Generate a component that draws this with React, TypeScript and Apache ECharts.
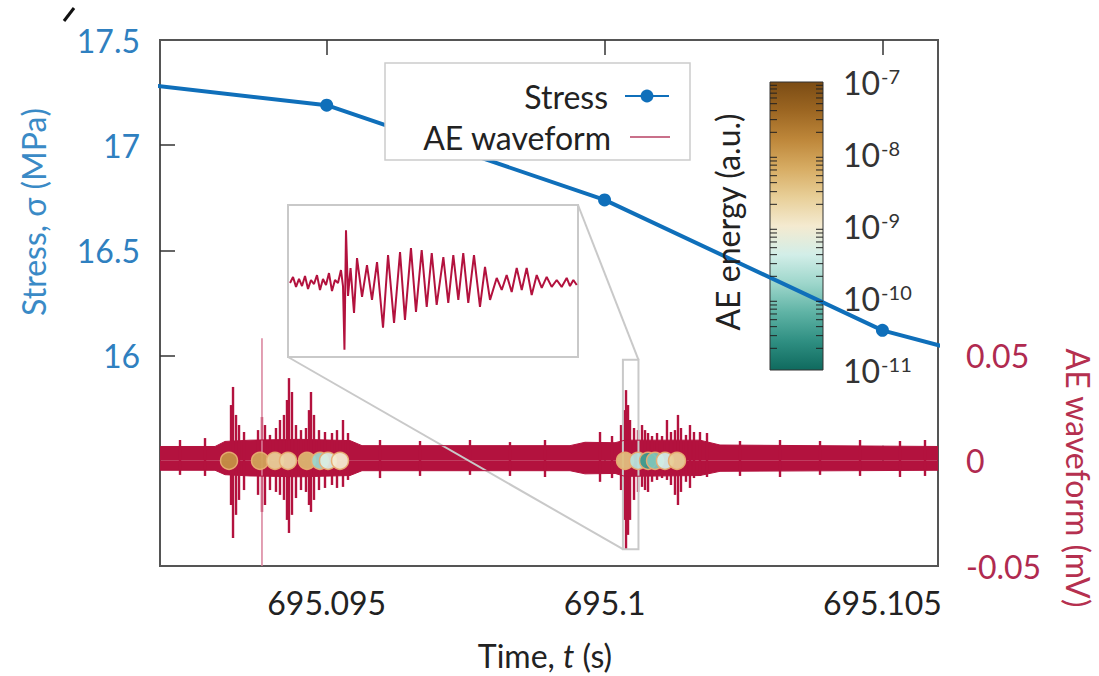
import React, { useEffect, useRef } from "react";
import * as echarts from "echarts";

// ---------- data ----------
const xTicks = [695.095, 695.1, 695.105];
const stressTicks = [16, 16.5, 17, 17.5];
const aeTicks = [-0.05, 0, 0.05];
const energyDecades = [-11, -10, -9, -8, -7];

// stress samples (s, MPa)
const stressTime = [695.09, 695.095, 695.1, 695.105, 695.11];
const stressValue = [17.34, 17.19, 16.74, 16.12, 15.77];

// AE waveform envelope (s, mV)
const envTime = [695.092, 695.09299, 695.09317, 695.09362, 695.094519, 695.095419, 695.095635, 695.099378, 695.099648, 695.100188, 695.100368, 695.101717, 695.102077, 695.106];
const envUpper = [0.0068, 0.0068, 0.0092, 0.0098, 0.0102, 0.0096, 0.0072, 0.0072, 0.0088, 0.0086, 0.0098, 0.0098, 0.0075, 0.0068];
const envLower = [-0.0045, -0.0045, -0.0066, -0.0072, -0.0076, -0.007, -0.0047, -0.0047, -0.0062, -0.006, -0.0074, -0.007, -0.005, -0.0045];

// AE waveform excursions (s, max mV, min mV)
const spikeTime = [
  695.09236, 695.09281,
  695.093278, 695.093314, 695.093368, 695.093422, 695.093512, 695.093764, 695.093835, 695.093889, 695.093979,
  695.094087, 695.094159, 695.094231, 695.094285, 695.094321, 695.094375, 695.094447, 695.094537, 695.094627,
  695.094681, 695.094717, 695.094771, 695.094861, 695.094969, 695.095095, 695.095185, 695.095293, 695.095383,
  695.095959, 695.096679, 695.097578, 695.098298, 695.098928,
  695.099918, 695.100134, 695.100296, 695.10035, 695.100386, 695.100422, 695.100458, 695.10053, 695.100602,
  695.100674, 695.100728, 695.100782, 695.100854, 695.100944, 695.101034, 695.101123, 695.101195, 695.101267,
  695.101321, 695.101375, 695.101465, 695.101537, 695.101609, 695.101717, 695.101843,
  695.102437, 695.103157, 695.103877, 695.104597, 695.105316, 695.105766,
];
const spikeUpper = [
  0.0099, 0.0108,
  0.0265, 0.0351, 0.0218, 0.017, 0.0137, 0.0146, 0.0208, 0.017, 0.0123,
  0.0156, 0.0194, 0.0218, 0.0289, 0.0393, 0.0327, 0.017, 0.0146, 0.0156,
  0.0241, 0.0327, 0.0218, 0.0146, 0.0137, 0.0132, 0.0146, 0.0194, 0.0132,
  0.0099, 0.0094, 0.0099, 0.0089, 0.0099,
  0.0137, 0.0118, 0.017, 0.0241, 0.0336, 0.0265, 0.0194, 0.0156, 0.0146,
  0.017, 0.0146, 0.0132, 0.0118, 0.0132, 0.0118, 0.0194, 0.0137, 0.0146,
  0.0218, 0.0156, 0.0123, 0.017, 0.0137, 0.0137, 0.0132,
  0.0094, 0.0099, 0.0094, 0.0099, 0.0094, 0.0099,
];
const spikeLower = [
  -0.0067, -0.0072,
  -0.021, -0.0367, -0.0257, -0.0186, -0.0139, -0.0162, -0.0243, -0.021, -0.0139,
  -0.0148, -0.0162, -0.0186, -0.0281, -0.0343, -0.0257, -0.0177, -0.0139, -0.0148,
  -0.021, -0.0243, -0.0186, -0.0139, -0.0129, -0.0115, -0.0129, -0.0124, -0.0091,
  -0.0082, -0.0072, -0.0067, -0.0072, -0.0077,
  -0.01, -0.0082, -0.0139, -0.0281, -0.0424, -0.0352, -0.0281, -0.0186, -0.0148,
  -0.0124, -0.0139, -0.0148, -0.01, -0.0091, -0.0082, -0.0091, -0.0115, -0.0162,
  -0.021, -0.0148, -0.01, -0.0129, -0.0082, -0.0072, -0.0077,
  -0.0072, -0.0077, -0.0067, -0.0072, -0.0077, -0.0072,
];
// the single light trace reaching past the axis
const lightSpikeTime = [695.093835];
const lightSpikeUpper = [0.0583];
const lightSpikeLower = [-0.06];

// AE events (s, log10 energy)
const eventTime = [695.093242, 695.0938, 695.094069, 695.094303, 695.094645, 695.094879, 695.095023, 695.095239,
  695.100368, 695.100602, 695.100782, 695.100908, 695.101087, 695.101303];
const eventLogEnergy = [-7.9, -8.1, -8.6, -8.7, -8.3, -9.8, -9.3, -9.0,
  -8.4, -9.6, -10.5, -10.0, -9.4, -8.6];

// zoomed waveform (µs from start of zoom window, mV)
const insetTime = [2.1, 5.2, 8.3, 11.4, 14.5, 17.6, 20.7, 23.8, 26.9, 30.0, 33.1, 36.2, 39.3, 42.4, 45.5, 48.6, 51.7, 54.8, 56.9,
  58.4, 60.0, 62.1, 64.7, 68.3, 71.4, 76.6, 81.7, 86.9, 92.1, 98.3, 103.5, 109.7, 115.9, 121.0, 127.2, 132.4, 138.3, 143.5,
  148.7, 153.8, 160.7, 165.8, 171.0, 176.2, 181.3, 186.5, 192.4, 198.6, 203.8, 209.0, 215.9, 221.1, 226.2, 231.4, 236.6,
  241.8, 246.9, 252.1, 257.3, 262.5, 267.6, 272.8, 278.0, 283.1, 288.3, 291.7, 295.2, 298.7];
const insetValue = [-0.0012, 0.0024, -0.0035, 0.0012, -0.003, 0.003, -0.0047, 0.0006, -0.0018, 0.0035, -0.0053, 0.0012, -0.0024, 0.0047, -0.0059, 0.0006, -0.0012, 0.0065, -0.003,
  -0.0407, 0.0301, -0.0089, 0.0077, -0.0189, 0.0136, -0.0094, 0.0094, -0.0112, 0.0112, -0.0277, 0.0153, -0.0248, 0.0171, -0.023, 0.0195, -0.0183, 0.0183, -0.0153,
  0.0165, -0.0142, 0.0142, -0.013, 0.0153, -0.0112, 0.0165, -0.013, 0.0153, -0.0153, 0.0083, -0.0112, 0.0018, -0.0053, 0.0035, -0.0065, 0.0077,
  -0.0053, 0.0077, -0.0083, 0.0035, -0.0041, 0.0024, -0.0035, 0.0006, -0.0035, 0.0018, -0.003, 0.0006, -0.0024];

// zoom window in main coordinates
const zoomT = [695.10033, 695.10061];
const zoomV = [-0.042, 0.048];
const insetSpan = [0, 300];
const insetRange = [-0.045, 0.045];

// colour scale from log10 energy -11 (bottom) to -7 (top)
const energyColors = ["#0f6a5e", "#2f8f82", "#5fb3a5", "#9dd6cb", "#d2eee8", "#f4ead0", "#e8cf98", "#d7ac63", "#be873a", "#9c6622", "#7b4c14"];

// ---------- layout ----------
const FONT = "Lato, 'Open Sans', sans-serif";
const MAIN = { left: 160, top: 40, width: 778, height: 526 };
const INSET = { left: 288, top: 205, width: 290, height: 152 };
const CBAR = { left: 770, top: 82, width: 53, height: 288 };
const BLUE = "#0f6fba";
const RED = "#b3123e";

export default function App() {
  const ref = useRef<HTMLDivElement>(null);
  useEffect(() => {
    document.body.style.margin = "0";
    const chart = echarts.init(ref.current!, undefined, { renderer: "svg" });

    const fmtX = (v: number) => String(parseFloat(v.toFixed(3)));
    const minorTicks: number[][] = [];
    for (let d = 0; d < energyDecades.length - 1; d++) {
      for (let k = 2; k <= 9; k++) minorTicks.push([0.5, energyDecades[d] + Math.log10(k)]);
    }

    const option: any = {
      animation: false,
      backgroundColor: "#ffffff",
      textStyle: { fontFamily: FONT },
      grid: [
        { ...MAIN, show: true, borderColor: "#555", borderWidth: 2, backgroundColor: "transparent" },
        { ...INSET, show: true, borderColor: "#c9c9c9", borderWidth: 2, backgroundColor: "#ffffff" },
        { ...CBAR, show: false },
      ],
      xAxis: [
        {
          type: "value", gridIndex: 0, min: 695.092, max: 695.106,
          axisLine: { show: false }, splitLine: { show: false },
          axisTick: { show: true, inside: true, length: 15, customValues: xTicks, lineStyle: { color: "#333", width: 1.5 } },
          axisLabel: { customValues: xTicks, formatter: fmtX, color: "#222", fontSize: 32, fontFamily: FONT, margin: 20 },
        },
        {
          type: "value", gridIndex: 0, position: "top", min: 695.092, max: 695.106,
          axisLine: { show: false }, splitLine: { show: false },
          axisTick: { show: true, inside: true, length: 15, customValues: xTicks, lineStyle: { color: "#333", width: 1.5 } },
          axisLabel: { show: false },
        },
        { type: "value", gridIndex: 1, min: insetSpan[0], max: insetSpan[1], show: false },
        { type: "value", gridIndex: 2, min: 0, max: 1, show: false },
      ],
      yAxis: [
        {
          type: "value", gridIndex: 0, position: "left", min: 15, max: 17.5,
          axisLine: { show: false }, splitLine: { show: false },
          axisTick: { show: true, inside: true, length: 15, customValues: [16, 16.5, 17], lineStyle: { color: "#333", width: 1.5 } },
          axisLabel: { customValues: stressTicks, color: "#2f80c0", fontSize: 32, fontFamily: FONT, margin: 20 },
        },
        {
          type: "value", gridIndex: 0, position: "right", min: -0.05, max: 0.2,
          axisLine: { show: false }, splitLine: { show: false }, axisTick: { show: false },
          axisLabel: { customValues: aeTicks, formatter: (v: number) => String(parseFloat(v.toFixed(2))), color: "#b02a50", fontSize: 32, fontFamily: FONT, margin: 28 },
        },
        { type: "value", gridIndex: 1, min: insetRange[0], max: insetRange[1], show: false },
        {
          type: "value", gridIndex: 2, position: "right", min: -11, max: -7, interval: 1,
          axisLine: { show: false }, splitLine: { show: false }, axisTick: { show: false },
          axisLabel: {
            margin: 20,
            formatter: (v: number) => `{b|10}{s|${v}}`,
            rich: {
              b: { fontSize: 32, fontFamily: FONT, color: "#333" },
              s: { fontSize: 20, fontFamily: FONT, color: "#333", verticalAlign: "top", padding: [0, 0, 0, 1] },
            },
          },
        },
      ],
      visualMap: {
        type: "continuous", show: false, dimension: 2, min: -11, max: -7, seriesIndex: 4,
        inRange: { color: energyColors },
      },
      legend: [
        {
          data: ["Stress"], right: 429, top: 80, align: "right", padding: 0,
          itemWidth: 44, itemHeight: 16, backgroundColor: "transparent",
          textStyle: { fontSize: 32, fontFamily: FONT, color: "#222", padding: [0, 12, 0, 0] },
        },
        {
          data: [{ name: "AE waveform", icon: "rect", itemStyle: { color: "#c9708a" } }],
          right: 429, top: 121, align: "right", padding: 0,
          itemWidth: 40, itemHeight: 2, backgroundColor: "transparent",
          textStyle: { fontSize: 32, fontFamily: FONT, color: "#222", padding: [0, 14, 0, 0] },
        },
      ],
      series: [
        {
          name: "AE waveform", type: "line", xAxisIndex: 0, yAxisIndex: 1, symbol: "none", z: 1,
          data: envTime.map((t, i) => [t, envUpper[i]]),
          lineStyle: { color: RED, width: 1 }, itemStyle: { color: RED },
          areaStyle: { color: RED, opacity: 1 },
        },
        {
          name: "AE lower", type: "line", xAxisIndex: 0, yAxisIndex: 1, symbol: "none", z: 1,
          data: envTime.map((t, i) => [t, envLower[i]]),
          lineStyle: { color: RED, width: 1 }, itemStyle: { color: RED },
          areaStyle: { color: RED, opacity: 1 },
        },
        {
          name: "AE spikes", type: "custom", xAxisIndex: 0, yAxisIndex: 1, clip: true, z: 1,
          data: spikeTime.map((t, i) => [t, spikeLower[i], spikeUpper[i]]),
          encode: { x: 0, y: [1, 2] },
          renderItem: (params: any, api: any) => {
            const a = api.coord([api.value(0), api.value(1)]);
            const b = api.coord([api.value(0), api.value(2)]);
            return { type: "line", shape: { x1: a[0], y1: a[1], x2: b[0], y2: b[1] }, style: { stroke: RED, lineWidth: 2.4 } };
          },
        },
        {
          name: "AE light", type: "custom", xAxisIndex: 0, yAxisIndex: 1, clip: true, z: 1,
          data: lightSpikeTime.map((t, i) => [t, lightSpikeLower[i], lightSpikeUpper[i]]),
          encode: { x: 0, y: [1, 2] },
          renderItem: (params: any, api: any) => {
            const a = api.coord([api.value(0), api.value(1)]);
            const b = api.coord([api.value(0), api.value(2)]);
            return { type: "line", shape: { x1: a[0], y1: a[1], x2: b[0], y2: b[1] }, style: { stroke: "#d9809a", lineWidth: 1.5 } };
          },
        },
        {
          name: "AE events", type: "scatter", xAxisIndex: 0, yAxisIndex: 1, symbolSize: 17, z: 3,
          data: eventTime.map((t, i) => [t, 0, eventLogEnergy[i]]),
          itemStyle: { borderColor: "#e8ad72", borderWidth: 1.5, opacity: 0.95 },
        },
        {
          name: "Stress", type: "line", xAxisIndex: 0, yAxisIndex: 0, clip: true, z: 2,
          data: stressTime.map((t, i) => [t, stressValue[i]]),
          symbol: "circle", symbolSize: 13, showAllSymbol: true,
          lineStyle: { color: BLUE, width: 4 }, itemStyle: { color: BLUE },
        },
        {
          name: "Zoom", type: "line", xAxisIndex: 2, yAxisIndex: 2, symbol: "none",
          data: insetTime.map((t, i) => [t, insetValue[i]]),
          lineStyle: { color: RED, width: 2 },
        },
        {
          name: "Colorbar ticks", type: "custom", xAxisIndex: 3, yAxisIndex: 3, z: 3,
          data: minorTicks, encode: { x: 0, y: 1 },
          renderItem: (params: any, api: any) => {
            const cs = params.coordSys;
            const y = api.coord([0.5, api.value(1)])[1];
            return {
              type: "group",
              children: [
                { type: "line", shape: { x1: cs.x, y1: y, x2: cs.x + 7, y2: y }, style: { stroke: "#222", lineWidth: 1 } },
                { type: "line", shape: { x1: cs.x + cs.width - 7, y1: y, x2: cs.x + cs.width, y2: y }, style: { stroke: "#222", lineWidth: 1 } },
              ],
            };
          },
        },
      ],
    };
    chart.setOption(option);

    const zTL = chart.convertToPixel({ xAxisIndex: 0, yAxisIndex: 1 } as any, [zoomT[0], zoomV[1]]) as number[];
    const zBR = chart.convertToPixel({ xAxisIndex: 0, yAxisIndex: 1 } as any, [zoomT[1], zoomV[0]]) as number[];
    const iBL = chart.convertToPixel({ xAxisIndex: 2, yAxisIndex: 2 } as any, [insetSpan[0], insetRange[0]]) as number[];
    const iTR = chart.convertToPixel({ xAxisIndex: 2, yAxisIndex: 2 } as any, [insetSpan[1], insetRange[1]]) as number[];

    const gradStops = energyColors.map((c, i) => ({ offset: i / (energyColors.length - 1), color: c }));
    const grey = "#c9c9c9";
    chart.setOption({
      graphic: [
        { type: "rect", z: 1, shape: { x: zTL[0], y: zTL[1], width: zBR[0] - zTL[0], height: zBR[1] - zTL[1] }, style: { fill: "none", stroke: grey, lineWidth: 2 } },
        { type: "line", z: 1, shape: { x1: iBL[0], y1: iBL[1], x2: zTL[0], y2: zBR[1] }, style: { stroke: grey, lineWidth: 2 } },
        { type: "line", z: 1, shape: { x1: iTR[0], y1: iTR[1], x2: zBR[0], y2: zTL[1] }, style: { stroke: grey, lineWidth: 2 } },
        { type: "rect", z: 3, shape: { x: 385, y: 63, width: 305, height: 97 }, style: { fill: "#fff", stroke: "#cccccc", lineWidth: 1.5 } },
        {
          type: "rect", z: 1, shape: { x: CBAR.left, y: CBAR.top, width: CBAR.width, height: CBAR.height },
          style: { fill: new echarts.graphic.LinearGradient(0, 1, 0, 0, gradStops), stroke: "#333", lineWidth: 1 },
        },
        { type: "text", z: 5, x: 33, y: 212, rotation: Math.PI / 2, style: { text: "Stress, σ (MPa)", fontSize: 32, fontFamily: FONT, fill: "#3a8ac6", align: "center", verticalAlign: "middle" } },
        { type: "text", z: 5, x: 1078, y: 478, rotation: -Math.PI / 2, style: { text: "AE waveform (mV)", fontSize: 32, fontFamily: FONT, fill: "#b5304f", align: "center", verticalAlign: "middle" } },
        { type: "text", z: 5, x: 727, y: 222, rotation: Math.PI / 2, style: { text: "AE energy (a.u.)", fontSize: 32, fontFamily: FONT, fill: "#222", align: "center", verticalAlign: "middle" } },
        {
          type: "text", z: 5, x: 545, y: 655,
          style: { text: "Time, {i|t} (s)", fontSize: 32, fontFamily: FONT, fill: "#222", align: "center", verticalAlign: "middle", rich: { i: { fontStyle: "italic", fontSize: 32, fontFamily: FONT, fill: "#222" } } },
        },
        { type: "line", z: 5, shape: { x1: 64, y1: 21, x2: 74, y2: 8 }, style: { stroke: "#111", lineWidth: 3 } },
      ],
    });

    return () => chart.dispose();
  }, []);
  return <div ref={ref} style={{ width: 1099, height: 676 }} />;
}
